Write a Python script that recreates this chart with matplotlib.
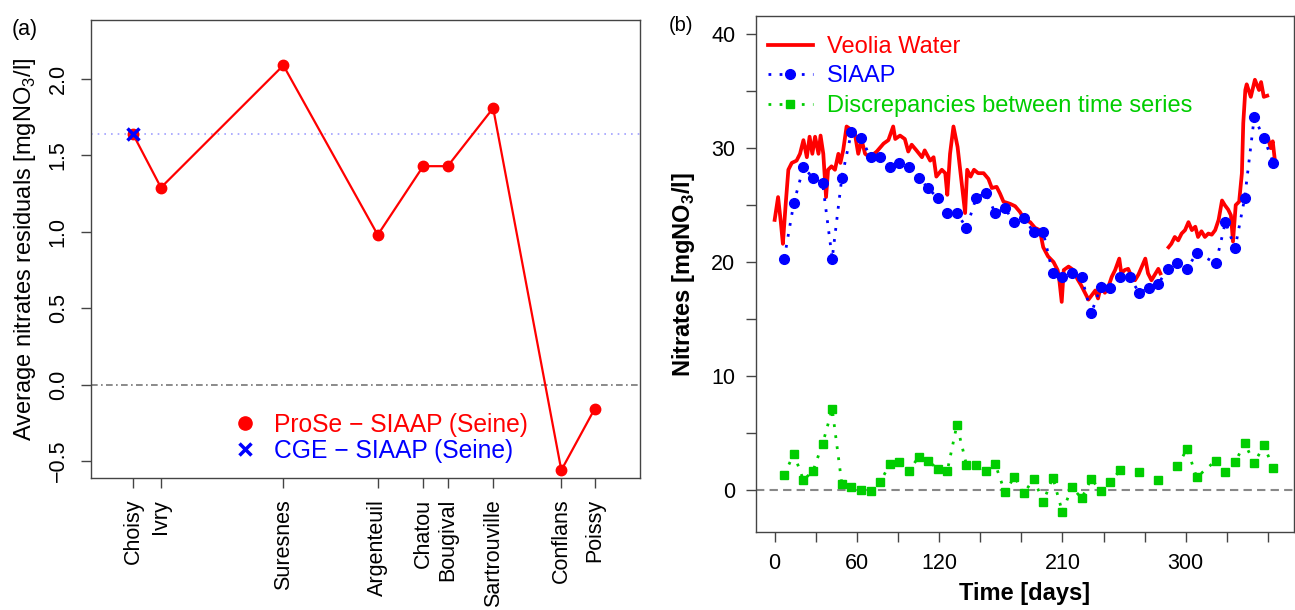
import numpy as np
import matplotlib
matplotlib.use('Agg')
import matplotlib.pyplot as plt
from matplotlib.lines import Line2D

plt.rcParams['font.family'] = ['Liberation Sans', 'DejaVu Sans']
plt.rcParams['mathtext.fontset'] = 'custom'
plt.rcParams['mathtext.rm'] = 'Liberation Sans'
plt.rcParams['mathtext.bf'] = 'Liberation Sans:bold'

# panel (a): stations along the Seine (approx. km from Choisy)
stations = ['Choisy', 'Ivry', 'Suresnes', 'Argenteuil', 'Chatou', 'Bougival',
            'Sartrouville', 'Conflans', 'Poissy']
station_km = [0, 8, 43, 70, 83, 90, 103, 122.5, 132]
prose_resid = [1.64, 1.29, 2.09, 0.98, 1.43, 1.43, 1.81, -0.56, -0.16]
cge_km = [0]
cge_resid = [1.64]

# panel (b): Veolia Water daily-ish series (nan = gap)
veolia_days = [0, 2.5, 4.5, 6, 8, 10, 12.5, 16, 18.5, 21, 23.5, 25.5, 27.5, 29.5, 32,
               33.5, 35.5, 37.5, 39, 41.5, 44, 46.5, 48, 50, 52.5, 56, 58.5, 61, 63.5,
               66, 69.5, 74.5, 79.5, 83, 86.5, 88, 91.5, 95, 97.5, 100, 103.5, 107.5,
               109.5, 113.5, 116, 118, 122, 124.5, 126, 128, 130.5, 133.5, 136, 139,
               140.5, 143, 145.5, 148.5, 152.5, 156, 158.5, 162, 164.5, 167, 172,
               175.5, 179, 182.5, 186.5, 190, 193.5, 196, 199.5, 203.5, 206.5, 207.5,
               209.5, 211, 214.5, 218, 221, 223.5, 226.5, 229, 231.5, 234, 236, 238.5,
               241, 243.5, 246, 248.5, 251.5, 253, 255.5, 258, 260.5, 263, 265.5, 268,
               270.5, 272.5, 275, 277.5, 280, 281.5, 284, 287.5, 289.5, 292, 294.5,
               297, 299.5, 302, 304.5, 307, 309, 311.5, 314, 316.5, 319, 321.5, 324,
               326.5, 328.5, 331, 333, 334.5, 336.5, 339, 341, 342, 343.5, 344.5,
               347.5, 350.5, 353.5, 355, 357, 359.5, 360, 360.5, 362, 363.5, 365]
veolia_vals = [23.7, 25.7, 23.5, 21.6, 25.0, 28.1, 28.7, 28.9, 29.5, 30.7, 29.2, 31.0,
               29.5, 31.0, 29.5, 31.1, 29.5, 25.7, 28.1, 28.4, 28.1, 29.5, 28.7, 29.8,
               31.9, 31.6, 31.3, 29.5, 30.7, 29.5, 29.2, 29.7, 30.4, 30.7, 31.9, 30.8,
               31.1, 30.8, 29.7, 30.3, 29.8, 29.2, 29.8, 28.9, 29.2, 27.5, 28.1, 27.8,
               25.9, 29.5, 31.9, 30.1, 27.5, 24.3, 28.1, 27.5, 28.1, 27.8, 27.8, 27.3,
               26.5, 26.6, 26.0, 25.3, 25.1, 24.9, 24.4, 23.7, 23.5, 23.0, 22.8, 21.3,
               20.5, 20.0, 19.3, 18.7, 16.5, 19.3, 19.6, 19.3, 18.5, 18.0, 17.3, 16.7,
               17.1, 17.5, 16.8, 18.1, 17.3, 17.8, 18.7, 19.3, 20.3, 19.0, 19.3, 19.4,
               18.7, 18.4, 18.9, 19.6, 20.3, 19.0, 18.4, 18.9, 19.4, 19.0, np.nan, 21.3,
               21.6, 22.2, 21.9, 22.5, 22.8, 23.5, 22.8, 23.1, 22.2, 22.7, 22.2, 22.5,
               22.4, 22.8, 23.7, 25.4, 25.0, 24.6, 24.1, 21.8, 25.0, 25.3, 27.8, 32.2,
               35.1, 35.6, 34.5, 36.0, 35.1, 35.8, 34.5, 34.6, np.nan, 30.7, 30.0, 30.6,
               29.0]

# SIAAP weekly samples and discrepancies (Veolia - SIAAP)
siaap_days = [7, 14, 21, 28, 35, 42, 49, 56, 63, 70, 77, 84, 91, 98, 105, 112, 119,
              126, 133, 140, 147, 154, 161, 168, 175, 182, 189, 196, 203, 210, 217,
              224, 231, 238, 245, 252, 259, 266, 273, 280, 287, 294, 301, 308, 322,
              329, 336, 343, 350, 357, 364]
siaap_vals = [20.3, 25.2, 28.3, 27.4, 26.9, 20.3, 27.4, 31.4, 30.9, 29.2, 29.2, 28.3,
              28.7, 28.3, 27.4, 26.5, 25.6, 24.3, 24.3, 23.0, 25.6, 26.1, 24.3, 24.7,
              23.5, 23.9, 22.6, 22.6, 19.0, 18.7, 19.0, 18.7, 15.5, 17.8, 17.7, 18.7,
              18.7, 17.3, 17.7, 18.1, 19.4, 19.9, 19.4, 20.8, 19.9, 23.5, 21.2, 25.6,
              32.7, 30.9, 28.7]
discrep_vals = [1.34, 3.16, 0.85, 1.67, 4.04, 7.1, 0.55, 0.26, 0.0, -0.12, 0.67, 2.25,
                2.43, 1.67, 2.87, 2.54, 1.84, 1.67, 5.70, 2.19, 2.19, 1.67, 2.25, -0.2,
                1.14, -0.32, 0.99, -1.05, 1.08, -1.96, 0.26, -0.76, 0.96, -0.08, 0.68,
                1.71, np.nan, 1.55, np.nan, 0.84, np.nan, 2.1, 3.6, 1.1, 2.57, 1.55,
                2.4, 4.1, 2.34, 3.9, 1.9]

RED = '#ff0000'
BLUE = '#0000ff'
GREEN = '#00cd00'
EDGE = '#444444'


def style_axes(ax):
    for s in ax.spines.values():
        s.set_color(EDGE)
        s.set_linewidth(1.0)
    ax.tick_params(direction='out', color=EDGE, width=1.0)


fig = plt.figure(figsize=(12.95, 6.10), dpi=100)

# ---------- panel (a)
ax1 = fig.add_axes([0.0703, 0.2164, 0.4239, 0.7506])
style_axes(ax1)
ax1.axhline(cge_resid[0], color='#a0a0ff', lw=1.2, dashes=(1, 3))
ax1.axhline(0, color='#777777', lw=1.2, dashes=(4, 2, 1, 2))
ax1.plot(station_km, prose_resid, '-o', color=RED, lw=1.6, ms=7.5)
ax1.plot(cge_km, cge_resid, 'x', color=BLUE, ms=8, mew=2.5)
ax1.set_xlim(-12, 145)
ax1.set_ylim(-0.611, 2.386)
ax1.set_xticks(station_km)
ax1.set_xticklabels(stations, rotation=90, fontsize=15.5)
ax1.set_yticks([-0.5, 0, 0.5, 1.0, 1.5, 2.0])
ax1.set_yticklabels(['\u22120.5', '0.0', '0.5', '1.0', '1.5', '2.0'],
                    rotation=90, va='center', fontsize=15.5)
ax1.tick_params(axis='y', length=7, pad=9)
ax1.tick_params(axis='x', length=7, pad=8)
ax1.set_ylabel('Average nitrates residuals [mgNO$_3$/l]', fontsize=17, labelpad=7)

h_a = [Line2D([], [], color=RED, marker='o', ls='none', ms=9.5),
       Line2D([], [], color=BLUE, marker='x', ls='none', ms=8, mew=2.5)]
ax1.legend(h_a, ['ProSe \u2212 SIAAP (Seine)', 'CGE \u2212 SIAAP (Seine)'],
           loc='center left', bbox_to_anchor=(0.2587, 0.0873), frameon=False,
           fontsize=17.7, handlelength=1.0, handletextpad=0.65, borderpad=0,
           borderaxespad=0, labelspacing=0.08, labelcolor=[RED, BLUE])
fig.text(0.0193, 0.952, '(a)', fontsize=15.5, ha='center', va='center')

# ---------- panel (b)
ax2 = fig.add_axes([0.5838, 0.1279, 0.4154, 0.8459])
style_axes(ax2)
ax2.axhline(0, color='#888888', lw=1.5, dashes=(4, 2.5))
ax2.plot(veolia_days, veolia_vals, '-', color=RED, lw=2.7, label='Veolia Water')
ax2.plot(siaap_days, siaap_vals, color=BLUE, lw=2.0, dashes=(1, 3), marker='o',
         ms=7, label='SIAAP')
ax2.plot(siaap_days, discrep_vals, color=GREEN, lw=2.0, dashes=(1, 3), marker='s',
         ms=6, label='Discrepancies between time series')
ax2.set_xlim(-13.6, 379)
ax2.set_ylim(-3.7, 41.6)
xt = list(range(0, 361, 30))
ax2.set_xticks(xt)
ax2.set_xticklabels([str(t) if t in (0, 60, 120, 210, 300) else '' for t in xt],
                    fontsize=15.5)
yt = list(range(0, 41, 5))
ax2.set_yticks(yt)
ax2.set_yticklabels([str(t) if t % 10 == 0 else '' for t in yt], fontsize=15.5)
ax2.tick_params(axis='both', length=7, pad=8)
ax2.set_xlabel('Time [days]', fontsize=17, fontweight='bold', labelpad=6)
ax2.set_ylabel(r'Nitrates [mgNO$_\mathbf{3}$/l]', fontsize=17, fontweight='bold',
               labelpad=10)
ax2.legend(loc='center left', bbox_to_anchor=(0.0223, 0.8830), frameon=False,
           fontsize=17, handlelength=1.9, handletextpad=0.6, borderpad=0,
           borderaxespad=0, labelspacing=0.32, labelcolor=[RED, BLUE, GREEN])
fig.text(0.5255, 0.959, '(b)', fontsize=14.5, ha='center', va='center')

fig.savefig('out.png', dpi=100)
